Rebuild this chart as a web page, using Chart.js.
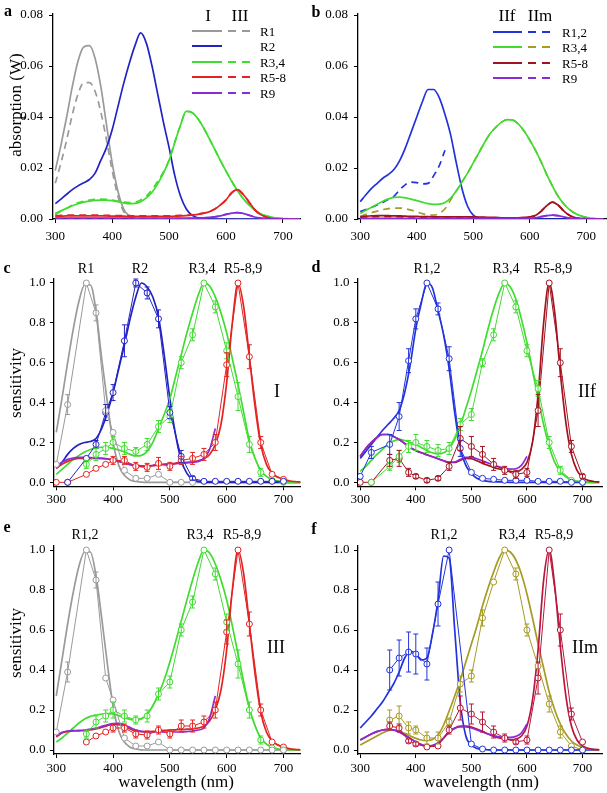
<!DOCTYPE html>
<html>
<head>
<meta charset="utf-8">
<script src="https://cdn.jsdelivr.net/npm/chart.js@4.4.0/dist/chart.umd.min.js"></script>
<style>
body { margin: 0; background: #fff; width: 607px; height: 793px; position: relative; overflow: hidden; font-family: "Liberation Serif", "Times New Roman", serif; }
canvas { position: absolute; }
.t { position: absolute; transform: translate(-50%, -50%); white-space: nowrap; color: #000; line-height: 1; }
.l { position: absolute; transform: translate(0, -50%); white-space: nowrap; color: #000; line-height: 1; font-size: 13px; }
.b { font-weight: bold; font-size: 16px; }
.rot { transform: translate(-50%, -50%) rotate(-90deg); font-size: 17px; }
.ln { position: absolute; height: 2px; }
</style>
</head>
<body>
<canvas id="pa" width="306" height="250" style="left:0;top:0"></canvas>
<canvas id="pb" width="304" height="250" style="left:303px;top:0"></canvas>
<canvas id="pc" width="306" height="265" style="left:0;top:250px"></canvas>
<canvas id="pd" width="304" height="265" style="left:303px;top:250px"></canvas>
<canvas id="pe" width="306" height="275" style="left:0;top:515px"></canvas>
<canvas id="pf" width="304" height="275" style="left:303px;top:515px"></canvas>

<!-- panel letters -->
<div class="t b" style="left:8px;top:11px">a</div>
<div class="t b" style="left:316px;top:12px">b</div>
<div class="t b" style="left:7px;top:268px">c</div>
<div class="t b" style="left:316px;top:267px">d</div>
<div class="t b" style="left:7px;top:527px">e</div>
<div class="t b" style="left:314px;top:529px">f</div>

<!-- axis titles -->
<div class="t rot" style="left:15px;top:105px">absorption (W)</div>
<div class="t rot" style="left:15px;top:383px">sensitivity</div>
<div class="t rot" style="left:15px;top:643px">sensitivity</div>
<div class="t" style="left:176px;top:781px;font-size:17px">wavelength (nm)</div>
<div class="t" style="left:481px;top:781px;font-size:17px">wavelength (nm)</div>

<!-- peak labels -->
<div class="t" style="left:86px;top:269px;font-size:14px">R1</div>
<div class="t" style="left:140px;top:269px;font-size:14px">R2</div>
<div class="t" style="left:202px;top:269px;font-size:14px">R3,4</div>
<div class="t" style="left:243px;top:269px;font-size:14px">R5-8,9</div>
<div class="t" style="left:427px;top:269px;font-size:14px">R1,2</div>
<div class="t" style="left:506px;top:269px;font-size:14px">R3,4</div>
<div class="t" style="left:553px;top:269px;font-size:14px">R5-8,9</div>
<div class="t" style="left:85px;top:535px;font-size:14px">R1,2</div>
<div class="t" style="left:200px;top:535px;font-size:14px">R3,4</div>
<div class="t" style="left:242px;top:535px;font-size:14px">R5-8,9</div>
<div class="t" style="left:444px;top:535px;font-size:14px">R1,2</div>
<div class="t" style="left:512px;top:535px;font-size:14px">R3,4</div>
<div class="t" style="left:554px;top:535px;font-size:14px">R5-8,9</div>

<!-- preparation labels -->
<div class="t" style="left:277px;top:391px;font-size:18px">I</div>
<div class="t" style="left:587px;top:391px;font-size:18px">IIf</div>
<div class="t" style="left:276px;top:647px;font-size:18px">III</div>
<div class="t" style="left:585px;top:647px;font-size:18px">IIm</div>

<div id="legends"></div>

<script>
// wavelength grid of the smooth curves (nm)
const wl = [300,310,320,330,340,350,360,370,380,390,
            400,410,420,430,440,450,460,470,480,490,
            500,510,520,530,540,550,560,570,580,590,
            600,610,620,630,640,650,660,670,680,690,
            700,710,720,730];
// wavelengths of the measured points (nm)
const dataWl = [300,320,353,370,387,400,420,440,460,480,500,520,540,560,580,600,620,640,660,680,700];
const xTicks = [300, 400, 500, 600, 700];
const absTicks = [0, 0.02, 0.04, 0.06, 0.08];
const sensTicks = [0, 0.2, 0.4, 0.6, 0.8, 1.0];

// ---- a: absorption, preparation I (solid) and III (dashed)
const aR1I = [0.019,0.029,0.040,0.052,0.062,0.0675,0.068,0.063,0.052,0.037,
  0.022,0.011,0.004,0.0012,0.0003,0,0,0,0,0, 0,0,0,0,0,0,0,0,0,0, 0,0,0,0,0,0,0,0,0,0, 0,0,0,0];
const aR1III = [0.014,0.022,0.031,0.041,0.049,0.0535,0.0535,0.050,0.042,0.031,
  0.019,0.009,0.003,0.001,0.0002,0,0,0,0,0, 0,0,0,0,0,0,0,0,0,0, 0,0,0,0,0,0,0,0,0,0, 0,0,0,0];
const aR2I = [0.006,0.0078,0.0097,0.0115,0.013,0.0142,0.0155,0.018,0.023,0.028,
  0.035,0.044,0.053,0.061,0.068,0.073,0.069,0.060,0.049,0.038,
  0.028,0.017,0.009,0.004,0.0015,0.0005,0.0001,0,0,0, 0,0,0,0,0,0,0,0,0,0, 0,0,0,0];
const aR34I = [0.0022,0.0032,0.0042,0.0052,0.006,0.0066,0.007,0.0073,0.0074,0.0074,
  0.0072,0.0068,0.0063,0.006,0.0061,0.0068,0.0083,0.0105,0.0138,0.018,
  0.023,0.030,0.0368,0.0422,0.0418,0.0395,0.036,0.0318,0.0274,0.023,
  0.0188,0.0148,0.0112,0.0081,0.0056,0.0036,0.0022,0.0013,0.0008,0.0004,
  0.0002,0.0001,0,0];
const aR34III = [0.0018,0.003,0.0042,0.0055,0.0064,0.007,0.0074,0.0077,0.0078,0.0077,
  0.0074,0.007,0.0066,0.0064,0.0066,0.0075,0.009,0.0115,0.0148,0.0185,
  0.0232,0.0302,0.0368,0.0422,0.0418,0.0395,0.036,0.0318,0.0274,0.023,
  0.0188,0.0148,0.0112,0.0081,0.0056,0.0036,0.0022,0.0013,0.0008,0.0004,
  0.0002,0.0001,0,0];
const aR58I = [0.0010,0.0011,0.0012,0.0012,0.0012,0.0012,0.0012,0.0012,0.0012,0.0012,
  0.0011,0.0011,0.0011,0.0010,0.0010,0.0010,0.0010,0.0010,0.0010,0.0010,
  0.0010,0.0011,0.0012,0.0013,0.0015,0.0018,0.0022,0.0028,0.0038,0.0055,
  0.0075,0.0103,0.0115,0.0097,0.0068,0.0038,0.0018,0.0008,0.0003,0.0001,
  0.0001,0,0,0];
const aR58III = [0.0013,0.0014,0.0015,0.0015,0.0015,0.0015,0.0015,0.0015,0.0015,0.0014,
  0.0014,0.0013,0.0013,0.0013,0.0012,0.0012,0.0012,0.0012,0.0012,0.0012,
  0.0012,0.0013,0.0014,0.0015,0.0016,0.0019,0.0023,0.0029,0.0039,0.0055,
  0.0075,0.0103,0.0115,0.0097,0.0068,0.0038,0.0018,0.0008,0.0003,0.0001,
  0.0001,0,0,0];
const aR9I = [0.0004,0.0004,0.0004,0.0004,0.0004,0.0004,0.0004,0.0004,0.0004,0.0004,
  0.0004,0.0004,0.0004,0.0004,0.0004,0.0004,0.0004,0.0004,0.0004,0.0004,
  0.0004,0.0004,0.0004,0.0004,0.0004,0.0004,0.0005,0.0006,0.0008,0.0012,
  0.0018,0.0023,0.0025,0.0022,0.0015,0.0008,0.0004,0.0002,0.0001,0,
  0,0,0,0];
const aR9III = [0.0002,0.0002,0.0002,0.0002,0.0002,0.0002,0.0002,0.0002,0.0002,0.0002,
  0.0002,0.0002,0.0002,0.0002,0.0002,0.0002,0.0002,0.0002,0.0002,0.0002,
  0.0002,0.0002,0.0002,0.0002,0.0002,0.0003,0.0004,0.0005,0.0008,0.0012,
  0.0018,0.0023,0.0025,0.0022,0.0015,0.0008,0.0004,0.0002,0.0001,0,
  0,0,0,0];

// ---- b: absorption, IIf (solid) and IIm (dashed)
const bR12f = [0.0068,0.0095,0.012,0.014,0.016,0.0175,0.0195,0.023,0.028,0.034,
  0.040,0.046,0.0508,0.0508,0.0475,0.041,0.033,0.022,0.012,0.005,
  0.0015,0.0005,0.0002,0,0,0,0,0,0,0, 0,0,0,0,0,0,0,0,0,0, 0,0,0,0];
const bR12m = [0.0029,0.0037,0.0045,0.0055,0.0065,0.0077,0.009,0.0115,0.0135,0.0145,
  0.0143,0.0138,0.014,0.017,0.021,0.027];
const bR34f = [0.0022,0.0034,0.0046,0.0058,0.007,0.0079,0.0085,0.0086,0.0083,0.0078,
  0.0072,0.0066,0.006,0.0057,0.0058,0.0065,0.0082,0.011,0.0145,0.018,
  0.022,0.026,0.030,0.0335,0.036,0.038,0.039,0.0388,0.0372,0.0345,
  0.031,0.027,0.0225,0.0175,0.013,0.009,0.006,0.0038,0.0023,0.0013,
  0.0007,0.0003,0.0001,0];
const bR34m = [0.001,0.0018,0.0025,0.0031,0.0037,0.0041,0.0043,0.0043,0.004,0.0035,
  0.0028,0.0021,0.0016,0.0015,0.0022,0.004,0.0075,0.011,0.0145,0.018,
  0.022,0.026,0.030,0.0335,0.036,0.038,0.039,0.0388,0.0372,0.0345,
  0.031,0.027,0.0225,0.0175,0.013,0.009,0.006,0.0038,0.0023,0.0013,
  0.0007,0.0003,0.0001,0];
const bR58f = [0.0009,0.0011,0.0012,0.0013,0.0013,0.0013,0.0012,0.0012,0.0011,0.0010,
  0.0010,0.0009,0.0009,0.0008,0.0008,0.0008,0.0008,0.0008,0.0008,0.0008,
  0.0008,0.0007,0.0007,0.0006,0.0006,0.0005,0.0005,0.0005,0.0005,0.0006,
  0.0008,0.0014,0.003,0.0052,0.0066,0.0055,0.0032,0.0015,0.0006,0.0002,
  0.0001,0,0,0];
const bR58m = [0.0007,0.0008,0.0009,0.0010,0.0010,0.0010,0.0009,0.0009,0.0008,0.0008,
  0.0008,0.0007,0.0007,0.0007,0.0006,0.0006,0.0006,0.0006,0.0006,0.0006,
  0.0006,0.0006,0.0005,0.0005,0.0005,0.0004,0.0004,0.0004,0.0004,0.0005,
  0.0008,0.0014,0.003,0.0052,0.0066,0.0055,0.0032,0.0015,0.0006,0.0002,
  0.0001,0,0,0];
const bR9f = [0.0003,0.0003,0.0003,0.0003,0.0003,0.0003,0.0003,0.0003,0.0003,0.0003,
  0.0003,0.0003,0.0003,0.0003,0.0003,0.0003,0.0003,0.0003,0.0003,0.0003,
  0.0003,0.0003,0.0003,0.0003,0.0003,0.0003,0.0003,0.0003,0.0003,0.0003,
  0.0003,0.0005,0.0009,0.0013,0.0015,0.0013,0.0008,0.0004,0.0002,0.0001,
  0,0,0,0];
const bR9m = [0.0002,0.0002,0.0002,0.0002,0.0002,0.0002,0.0002,0.0002,0.0002,0.0002,
  0.0002,0.0002,0.0002,0.0002,0.0002,0.0002,0.0002,0.0002,0.0002,0.0002,
  0.0002,0.0002,0.0002,0.0002,0.0002,0.0002,0.0002,0.0002,0.0002,0.0002,
  0.0003,0.0005,0.0009,0.0013,0.0015,0.0013,0.0008,0.0004,0.0002,0.0001,
  0,0,0,0];

// ---- c: sensitivity, preparation I
const cR1 = [0.25,0.42,0.60,0.77,0.91,0.99,0.99,0.86,0.62,0.40,
  0.20,0.085,0.035,0.012,0.004,0.001,0,0,0,0, 0,0,0,0,0,0,0,0,0,0, 0,0,0,0,0,0,0,0,0,0, 0,0,0,0];
const cR2 = [0.07,0.10,0.14,0.17,0.19,0.20,0.205,0.22,0.27,0.35,
  0.45,0.57,0.69,0.82,0.93,1.0,0.98,0.93,0.83,0.64,
  0.42,0.24,0.11,0.045,0.015,0.005,0.001,0,0,0, 0,0,0,0,0,0,0,0,0,0, 0,0,0,0];
const cR34 = [0.04,0.065,0.09,0.115,0.135,0.152,0.165,0.173,0.176,0.175,
  0.17,0.162,0.152,0.14,0.132,0.135,0.155,0.2,0.27,0.34,
  0.42,0.53,0.64,0.75,0.85,0.94,1.0,0.985,0.93,0.85,
  0.75,0.62,0.49,0.35,0.21,0.12,0.06,0.03,0.014,0.006,
  0.002,0.001,0,0];
const cR58 = [0.07,0.09,0.105,0.115,0.12,0.12,0.12,0.12,0.12,0.118,
  0.113,0.105,0.097,0.088,0.082,0.08,0.08,0.083,0.087,0.09,
  0.092,0.095,0.098,0.10,0.103,0.108,0.118,0.14,0.19,0.29,
  0.50,0.80,1.0,0.88,0.63,0.38,0.19,0.09,0.045,0.025,
  0.015,0.008,0.004,0.002];
const cR9 = [0.08,0.10,0.115,0.122,0.125,0.125,0.124,0.122,0.12,0.117,
  0.112,0.105,0.097,0.09,0.085,0.083,0.083,0.085,0.088,0.09,
  0.092,0.094,0.096,0.098,0.10,0.105,0.12,0.165,0.27];
const cR1m = [0.09,0.39,1.0,0.85,0.36,0.25,0.06,0.02,0.02,0.04,0.0,0.0,0.0];
const cR1e = [null,0.05,null,0.04];
const cR2m = [null,0.0,0.12,0.19,0.35,0.45,0.71,1.0,0.95,0.82,0.35,0.13,0.02,0.005,0.005,0.005,0.005,0.005,0.005,0.005,0.005];
const cR2e = [null,null,null,0.02,0.04,0.04,0.08,0.02,0.03,0.045,0.03,0.03,0.01];
const cR34m = [null,null,0.09,0.14,0.17,0.2,0.17,0.155,0.19,0.28,0.33,0.6,0.74,1.0,0.88,0.66,0.43,0.19,0.05,0.01,0.0];
const cR34e = [null,null,0.02,0.03,0.03,0.03,0.03,0.02,0.03,0.03,0.03,0.03,0.03,null,0.03,0.04,0.07,0.04,0.02];
const cR58m = [0.0,0.0,0.04,0.07,0.09,0.11,0.11,0.08,0.075,0.095,0.08,0.11,0.12,0.14,0.2,0.59,1.0,0.63,0.2,0.04,0.015];
const cR58e = [null,null,null,null,null,0.02,0.02,0.02,0.02,0.03,0.02,0.02,0.03,0.03,0.04,0.06,null,0.06,0.03];

// ---- d: sensitivity, IIf
const dR12 = [0.12,0.155,0.19,0.225,0.26,0.29,0.32,0.36,0.45,0.59,
  0.77,0.9,1.0,0.975,0.86,0.74,0.57,0.35,0.17,0.085,
  0.045,0.02,0.01,0.005,0.003,0.002,0.001,0,0,0, 0,0,0,0,0,0,0,0,0,0, 0,0,0,0];
const dR34 = [0.055,0.08,0.11,0.14,0.165,0.19,0.207,0.215,0.21,0.2,
  0.19,0.175,0.16,0.148,0.142,0.148,0.17,0.215,0.285,0.37,
  0.46,0.56,0.66,0.77,0.87,0.95,1.0,0.98,0.92,0.82,
  0.7,0.56,0.42,0.29,0.18,0.1,0.055,0.028,0.013,0.006,
  0.003,0.001,0,0];
const dR58 = [0.13,0.17,0.2,0.225,0.24,0.24,0.23,0.215,0.195,0.175,
  0.16,0.148,0.138,0.128,0.118,0.108,0.1,0.1,0.11,0.12,
  0.118,0.108,0.095,0.085,0.075,0.067,0.06,0.055,0.052,0.065,
  0.1,0.2,0.44,0.8,1.0,0.85,0.55,0.3,0.14,0.06,
  0.025,0.01,0.004,0.002];
const dR9 = [0.13,0.17,0.2,0.225,0.24,0.24,0.23,0.215,0.195,0.175,
  0.16,0.148,0.138,0.128,0.118,0.108,0.1,0.102,0.115,0.125,
  0.125,0.118,0.108,0.097,0.087,0.078,0.07,0.066,0.068,0.085,
  0.13];
const dR12m = [0.03,0.15,0.19,0.33,0.61,0.82,1.0,0.87,0.62,0.17,0.05,0.02,0.015,0.01,0.01,0.01,0.005,0.005,0.005,0.0,0.0];
const dR12e = [null,0.03,0.05,0.07,0.06,0.05,null,0.03,0.06,0.04];
const dR34m = [null,0.0,0.08,0.13,0.18,0.2,0.18,0.16,0.17,0.29,0.34,0.6,0.74,1.0,0.88,0.66,0.47,0.2,0.06,0.01,0.0];
const dR34e = [null,null,0.02,0.03,0.03,0.04,0.03,0.03,0.03,0.03,0.03,0.02,0.03,null,0.03,0.03,0.04,0.03,0.02];
const dR58m = [0.0,0.0,0.11,0.12,0.05,0.03,0.01,0.02,0.08,0.22,0.18,0.14,0.09,0.06,0.04,0.05,0.36,1.0,0.6,0.18,0.03];
const dR58e = [null,null,0.03,0.04,0.02,0.01,0.01,0.01,0.02,0.06,0.05,0.04,0.03,0.02,0.02,0.02,0.08,null,0.07,0.03,0.01];

// ---- e: sensitivity, preparation III
const eR12 = [0.27,0.45,0.63,0.79,0.92,0.99,0.99,0.87,0.66,0.43,
  0.22,0.095,0.04,0.014,0.005,0.001,0,0,0,0, 0,0,0,0,0,0,0,0,0,0, 0,0,0,0,0,0,0,0,0,0, 0,0,0,0];
const eR34 = [0.04,0.06,0.085,0.11,0.135,0.155,0.168,0.175,0.18,0.182,
  0.18,0.172,0.162,0.153,0.15,0.155,0.18,0.22,0.28,0.35,
  0.44,0.54,0.645,0.75,0.85,0.94,1.0,0.985,0.93,0.85,
  0.75,0.62,0.48,0.34,0.21,0.12,0.06,0.03,0.014,0.006,
  0.002,0.001,0,0];
const eR58 = [0.065,0.085,0.093,0.095,0.096,0.097,0.1,0.105,0.113,0.122,
  0.128,0.127,0.118,0.105,0.095,0.092,0.092,0.093,0.095,0.098,
  0.1,0.101,0.102,0.104,0.106,0.11,0.12,0.145,0.2,0.3,
  0.5,0.8,1.0,0.88,0.63,0.38,0.19,0.09,0.045,0.025,
  0.013,0.007,0.003,0.001];
const eR9 = [0.07,0.088,0.095,0.097,0.098,0.1,0.104,0.11,0.118,0.126,
  0.132,0.133,0.125,0.112,0.1,0.093,0.09,0.09,0.09,0.09,
  0.09,0.09,0.09,0.092,0.095,0.1,0.11,0.16,0.27];
const eR12m = [0.09,0.39,1.0,0.85,0.36,0.25,0.06,0.02,0.02,0.04,0.0,0.0,0.0,0.0,0.0,0.0,0.0,0.0,0.0,0.0,0.0];
const eR12e = [null,0.05,null,0.04];
const eR34m = [null,null,0.08,0.14,0.17,0.2,0.17,0.15,0.17,0.28,0.34,0.6,0.74,1.0,0.88,0.64,0.43,0.2,0.05,0.01,0.0];
const eR34e = [null,null,0.02,0.03,0.03,0.04,0.03,0.02,0.03,0.03,0.03,0.03,0.03,null,0.03,0.04,0.07,0.04,0.02];
const eR58m = [null,null,0.04,0.07,0.09,0.11,0.11,0.08,0.075,0.1,0.08,0.12,0.12,0.14,0.2,0.59,1.0,0.63,0.2,0.04,0.015];
const eR58e = [null,null,null,null,null,0.02,0.02,0.02,0.02,0.02,0.02,0.03,0.03,0.03,0.04,0.06,null,0.06,0.03];

// ---- f: sensitivity, IIm
const fR12 = [0.11,0.14,0.17,0.205,0.24,0.285,0.33,0.39,0.46,0.495,
  0.48,0.45,0.46,0.58,0.75,0.97,0.96,0.6,0.24,0.07,
  0.025,0.008,0.003,0.001,0,0,0,0,0,0, 0,0,0,0,0,0,0,0,0,0, 0,0,0,0];
const fR34 = [0.025,0.04,0.055,0.07,0.085,0.097,0.1,0.095,0.083,0.07,
  0.058,0.05,0.047,0.052,0.075,0.125,0.195,0.27,0.35,0.44,
  0.53,0.62,0.72,0.81,0.89,0.96,1.0,0.99,0.95,0.88,
  0.78,0.66,0.53,0.41,0.29,0.2,0.13,0.08,0.045,0.025,
  0.014,0.007,0.003,0.001];
const fR58 = [0.05,0.065,0.08,0.092,0.1,0.103,0.1,0.09,0.075,0.058,
  0.04,0.027,0.02,0.022,0.035,0.06,0.09,0.11,0.12,0.12,
  0.115,0.105,0.093,0.08,0.068,0.06,0.055,0.052,0.055,0.07,
  0.12,0.25,0.5,0.85,1.0,0.82,0.52,0.27,0.12,0.05,
  0.02,0.008,0.003,0.001];
const fR9 = [0.05,0.065,0.08,0.092,0.1,0.103,0.1,0.09,0.075,0.058,
  0.04,0.027,0.02,0.022,0.035,0.06,0.09,0.108,0.115,0.115,
  0.11,0.1,0.09,0.08,0.072,0.066,0.063,0.063,0.068,0.085,
  0.13];
const fR12m = [null,null,0.4,0.46,0.49,0.48,0.43,0.73,1.0,null,0.03,0.005,0.0,0.0,0.0,0.0,0.0,0.0,0.0,0.0,0.0];
const fR12e = [null,null,0.1,0.09,0.1,0.1,0.08,0.11];
const fR34m = [null,null,0.15,0.17,0.11,0.1,0.06,0.06,0.14,0.33,0.37,0.66,0.84,1.0,0.88,0.6,0.42,0.23,0.09,0.02,0.0];
const fR34e = [null,null,0.05,0.05,0.03,0.02,0.03,0.03,0.02,0.04,0.03,0.04,null,null,0.03,0.03,null,0.04,0.03];
const fR58m = [null,null,0.12,0.11,0.045,0.03,0.015,0.02,0.1,0.21,0.18,0.14,0.09,0.06,0.04,0.05,0.36,1.0,0.6,0.18,0.04];
const fR58e = [null,null,0.02,0.02,0.01,0.01,null,null,0.02,0.06,0.05,0.05,0.03,0.02,0.01,0.02,0.08,null,0.08,0.03];

// colours
const GREY = '#9a9a9a', BLUE = '#2323c4', GREEN = '#40dc30', RED = '#e52222', PURPLE = '#8a2bd8';
const BLUE2 = '#2233dd', DRED = '#a3121f', CRIM = '#b8173c', OLIVE = '#a69b25';

const tickFont = { family: '"Liberation Serif", "Times New Roman", serif', size: 13 };

// points from x and y arrays, skipping gaps
function pts(xs, ys, es) {
    const out = [];
    ys.forEach((y, i) => {
        if (y === null || y === undefined) return;
        out.push({ x: xs[i], y: y, e: es ? es[i] : null });
    });
    return out;
}

function curve(ys, color, dashed) {
    return {
        data: pts(wl, ys),
        borderColor: color,
        borderWidth: 1.7,
        borderDash: dashed ? [7, 5] : [],
        pointRadius: 0,
        cubicInterpolationMode: 'monotone',
        fill: false
    };
}

function meas(ys, es, color) {
    return {
        data: pts(dataWl, ys, es),
        borderColor: color,
        borderWidth: 1,
        pointRadius: 3,
        pointBackgroundColor: '#fff',
        pointBorderColor: color,
        pointBorderWidth: 1,
        tension: 0,
        fill: false,
        errColor: color
    };
}

// vertical error bars with caps
const errorBars = {
    id: 'errorBars',
    afterDatasetsDraw(chart) {
        const ctx = chart.ctx, ys = chart.scales.y;
        chart.data.datasets.forEach((ds, di) => {
            if (!ds.errColor) return;
            const meta = chart.getDatasetMeta(di);
            ds.data.forEach((p, i) => {
                if (p.e === null || p.e === undefined) return;
                const x = meta.data[i].x;
                const y1 = ys.getPixelForValue(p.y - p.e), y2 = ys.getPixelForValue(p.y + p.e);
                ctx.save();
                ctx.strokeStyle = ds.errColor;
                ctx.lineWidth = 1;
                ctx.beginPath();
                ctx.moveTo(x, y1); ctx.lineTo(x, y2);
                ctx.moveTo(x - 2.5, y1); ctx.lineTo(x + 2.5, y1);
                ctx.moveTo(x - 2.5, y2); ctx.lineTo(x + 2.5, y2);
                ctx.stroke();
                ctx.restore();
            });
        });
    }
};

function makeChart(id, datasets, o) {
    new Chart(document.getElementById(id), {
        type: 'line',
        data: { datasets: datasets },
        options: {
            responsive: false,
            animation: false,
            devicePixelRatio: 1,
            layout: { padding: o.pad },
            plugins: { legend: { display: false }, tooltip: { enabled: false } },
            scales: {
                x: {
                    type: 'linear', min: o.xMin, max: o.xMax,
                    afterBuildTicks: s => { s.ticks = xTicks.map(v => ({ value: v })); },
                    afterFit: s => { s.height = o.xH; },
                    ticks: { color: '#000', font: tickFont, padding: o.xPad, maxRotation: 0 },
                    grid: { drawOnChartArea: false, color: '#000', tickLength: 4 },
                    border: { color: '#000', width: 1.3 }
                },
                y: {
                    type: 'linear', min: o.yMin, max: o.yMax,
                    afterBuildTicks: s => { s.ticks = o.yTicks.map(v => ({ value: v })); },
                    afterFit: s => { s.width = o.yW; },
                    ticks: { color: '#000', font: tickFont, padding: o.yPad, callback: v => Number(v).toFixed(o.dec) },
                    grid: { drawOnChartArea: false, color: '#000', tickLength: 4 },
                    border: { color: '#000', width: 1.3 }
                }
            }
        },
        plugins: [errorBars]
    });
}

const leftX = { xMin: 296, xMax: 730 };
const rightX = { xMin: 296, xMax: 735 };
const absY = { yMin: 0, yMax: 0.0805, yTicks: absTicks, dec: 2, xH: 31, xPad: 6, yPad: 6 };
const sensY = { yMin: -0.02, yMax: 1.02, yTicks: sensTicks, dec: 1, yPad: 4.5 };

makeChart('pa', [
    curve(aR9III, PURPLE, true), curve(aR9I, PURPLE),
    curve(aR58III, RED, true), curve(aR58I, RED),
    curve(aR34III, GREEN, true), curve(aR34I, GREEN),
    curve(aR2I, BLUE),
    curve(aR1III, GREY, true), curve(aR1I, GREY)
], Object.assign({}, leftX, absY, { yW: 53, pad: { top: 13, right: 6, left: 0, bottom: 0 } }));

makeChart('pb', [
    curve(bR9m, PURPLE, true), curve(bR9f, PURPLE),
    curve(bR58m, DRED, true), curve(bR58f, DRED),
    curve(bR34f, GREEN), curve(bR34m, OLIVE, true),
    curve(bR12m, BLUE2, true), curve(bR12f, BLUE2)
], Object.assign({}, rightX, absY, { yW: 55, pad: { top: 13, right: 1, left: 0, bottom: 0 } }));

makeChart('pc', [
    meas(cR1m, cR1e, GREY), meas(cR2m, cR2e, BLUE), meas(cR34m, cR34e, GREEN), meas(cR58m, cR58e, RED),
    curve(cR9, PURPLE), curve(cR58, RED), curve(cR34, GREEN), curve(cR2, BLUE), curve(cR1, GREY)
], Object.assign({}, leftX, sensY, { yW: 54, xH: 28.7, xPad: 1.5, pad: { top: 29, right: 5.5, left: 0, bottom: 0 } }));

makeChart('pd', [
    meas(dR12m, dR12e, BLUE2), meas(dR34m, dR34e, GREEN), meas(dR58m, dR58e, DRED),
    curve(dR9, PURPLE), curve(dR58, DRED), curve(dR34, GREEN), curve(dR12, BLUE2)
], Object.assign({}, rightX, sensY, { yW: 55, xH: 28.7, xPad: 1.5, pad: { top: 29, right: 1, left: 0, bottom: 0 } }));

makeChart('pe', [
    meas(eR12m, eR12e, GREY), meas(eR34m, eR34e, GREEN), meas(eR58m, eR58e, RED),
    curve(eR9, PURPLE), curve(eR58, RED), curve(eR34, GREEN), curve(eR12, GREY)
], Object.assign({}, leftX, sensY, { yW: 54, xH: 36, xPad: 3, pad: { top: 31, right: 5.5, left: 0, bottom: 0 } }));

makeChart('pf', [
    meas(fR12m, fR12e, BLUE2), meas(fR34m, fR34e, OLIVE), meas(fR58m, fR58e, CRIM),
    curve(fR9, PURPLE), curve(fR58, CRIM), curve(fR34, OLIVE), curve(fR12, BLUE2)
], Object.assign({}, rightX, sensY, { yW: 55, xH: 36, xPad: 3, pad: { top: 31, right: 1, left: 0, bottom: 0 } }));

// legends of panels a and b
const legA = { heads: [['I', 208], ['III', 240]], solidX: 192, solidW: 30, dashX: 228, dashW: 22, textX: 260,
    rows: [['R1', GREY, GREY, 31], ['R2', BLUE, null, 46], ['R3,4', GREEN, GREEN, 61.5], ['R5-8', RED, RED, 77], ['R9', PURPLE, PURPLE, 92.5]] };
const legB = { heads: [['IIf', 507], ['IIm', 540]], solidX: 493, solidW: 29, dashX: 528, dashW: 22, textX: 562,
    rows: [['R1,2', BLUE2, BLUE2, 32], ['R3,4', GREEN, OLIVE, 47], ['R5-8', DRED, DRED, 62.5], ['R9', PURPLE, PURPLE, 78]] };

function drawLegend(L) {
    const box = document.getElementById('legends');
    let html = '';
    L.heads.forEach(h => {
        html += `<div class="t" style="left:${h[1]}px;top:15px;font-size:17px">${h[0]}</div>`;
    });
    L.rows.forEach(r => {
        html += `<div class="ln" style="left:${L.solidX}px;top:${r[3] - 1}px;width:${L.solidW}px;background:${r[1]}"></div>`;
        if (r[2]) html += `<div class="ln" style="left:${L.dashX}px;top:${r[3] - 1}px;width:${L.dashW}px;background:repeating-linear-gradient(90deg, ${r[2]} 0 8px, transparent 8px 14px)"></div>`;
        html += `<div class="l" style="left:${L.textX}px;top:${r[3]}px">${r[0]}</div>`;
    });
    box.insertAdjacentHTML('beforeend', html);
}
drawLegend(legA);
drawLegend(legB);
</script>
</body>
</html>
